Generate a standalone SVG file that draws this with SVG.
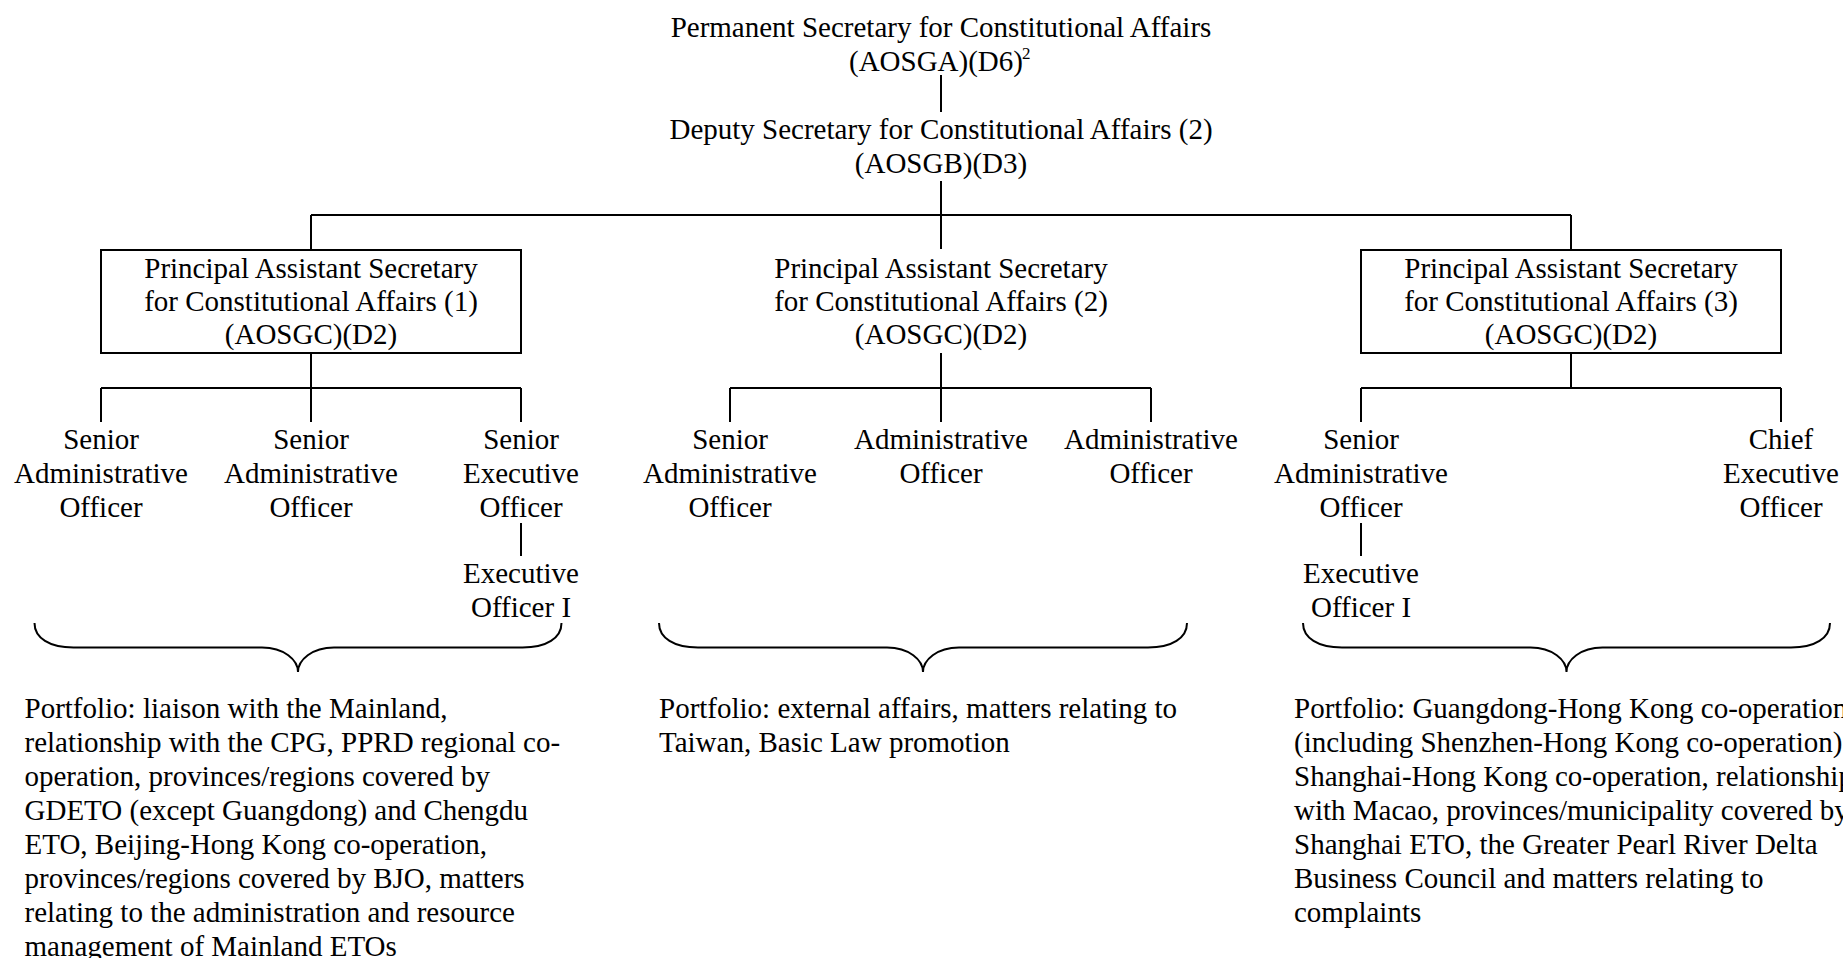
<svg xmlns="http://www.w3.org/2000/svg" width="1843" height="958" viewBox="0 0 1843 958">
<style>
text{font-family:"Liberation Serif","Times New Roman",serif;font-size:29px;fill:#000}
.c{text-anchor:middle}
.sup{font-size:17px}
.ln{stroke:#000;stroke-width:2;fill:none}
.box{stroke:#000;stroke-width:2;fill:#fff}
</style>
<rect width="1843" height="958" fill="#fff"/>
<g id="connectors" class="ln">
<path d="M941,75V112"/>
<path d="M941,181V249"/>
<path d="M311,215H1571M311,215V250M1571,215V250"/>
<path d="M311,353V388M101,388H521M101,388V422M311,388V422M521,388V422"/>
<path d="M941,353V388M730,388H1151M730,388V422M941,388V422M1151,388V422"/>
<path d="M1571,353V388M1361,388H1781M1361,388V422M1781,388V422"/>
<path d="M521,523V556"/>
<path d="M1361,523V556"/>
</g>
<g id="braces" class="ln">
<path d="M34.5,623C34.5,638 49.5,647.5 73.5,647.5H262C284,647.5 298,660 298,672C298,660 312,647.5 334,647.5H522.5C546.5,647.5 561.5,638 561.5,623"/>
<path d="M659,623C659,638 674,647.5 698,647.5H887C909,647.5 923,660 923,672C923,660 937,647.5 959,647.5H1148C1172,647.5 1187,638 1187,623"/>
<path d="M1303,623C1303,638 1318,647.5 1342,647.5H1530.5C1552.5,647.5 1566.5,660 1566.5,672C1566.5,660 1580.5,647.5 1602.5,647.5H1791C1815,647.5 1830,638 1830,623"/>
</g>
<g id="ps">
<text class="c" x="941" y="37">Permanent Secretary for Constitutional Affairs</text>
<text x="849" y="70.5">(AOSGA)(D6)</text>
<text class="sup" x="1022" y="59">2</text>
</g>
<g id="ds">
<text class="c" x="941" y="139">Deputy Secretary for Constitutional Affairs (2)</text>
<text class="c" x="941" y="173">(AOSGB)(D3)</text>
</g>
<g id="pas1">
<rect class="box" x="101" y="250" width="420" height="103"/>
<text class="c" x="311" y="278">Principal Assistant Secretary</text>
<text class="c" x="311" y="311">for Constitutional Affairs (1)</text>
<text class="c" x="311" y="344">(AOSGC)(D2)</text>
</g>
<g id="pas2">
<text class="c" x="941" y="278">Principal Assistant Secretary</text>
<text class="c" x="941" y="311">for Constitutional Affairs (2)</text>
<text class="c" x="941" y="344">(AOSGC)(D2)</text>
</g>
<g id="pas3">
<rect class="box" x="1361" y="250" width="420" height="103"/>
<text class="c" x="1571" y="278">Principal Assistant Secretary</text>
<text class="c" x="1571" y="311">for Constitutional Affairs (3)</text>
<text class="c" x="1571" y="344">(AOSGC)(D2)</text>
</g>
<g id="sao1">
<text class="c" x="101" y="449">Senior</text>
<text class="c" x="101" y="483">Administrative</text>
<text class="c" x="101" y="517">Officer</text>
</g>
<g id="sao2">
<text class="c" x="311" y="449">Senior</text>
<text class="c" x="311" y="483">Administrative</text>
<text class="c" x="311" y="517">Officer</text>
</g>
<g id="seo1">
<text class="c" x="521" y="449">Senior</text>
<text class="c" x="521" y="483">Executive</text>
<text class="c" x="521" y="517">Officer</text>
</g>
<g id="eo1">
<text class="c" x="521" y="583">Executive</text>
<text class="c" x="521" y="617">Officer I</text>
</g>
<g id="sao3">
<text class="c" x="730" y="449">Senior</text>
<text class="c" x="730" y="483">Administrative</text>
<text class="c" x="730" y="517">Officer</text>
</g>
<g id="ao1">
<text class="c" x="941" y="449">Administrative</text>
<text class="c" x="941" y="483">Officer</text>
</g>
<g id="ao2">
<text class="c" x="1151" y="449">Administrative</text>
<text class="c" x="1151" y="483">Officer</text>
</g>
<g id="sao4">
<text class="c" x="1361" y="449">Senior</text>
<text class="c" x="1361" y="483">Administrative</text>
<text class="c" x="1361" y="517">Officer</text>
</g>
<g id="eo2">
<text class="c" x="1361" y="583">Executive</text>
<text class="c" x="1361" y="617">Officer I</text>
</g>
<g id="ceo">
<text class="c" x="1781" y="449">Chief</text>
<text class="c" x="1781" y="483">Executive</text>
<text class="c" x="1781" y="517">Officer</text>
</g>
<g id="portfolio1">
<text x="24.5" y="718">Portfolio: liaison with the Mainland,</text>
<text x="24.5" y="752">relationship with the CPG, PPRD regional co-</text>
<text x="24.5" y="786">operation, provinces/regions covered by</text>
<text x="24.5" y="820">GDETO (except Guangdong) and Chengdu</text>
<text x="24.5" y="854">ETO, Beijing-Hong Kong co-operation,</text>
<text x="24.5" y="887.5">provinces/regions covered by BJO, matters</text>
<text x="24.5" y="921.5">relating to the administration and resource</text>
<text x="24.5" y="955.5">management of Mainland ETOs</text>
</g>
<g id="portfolio2">
<text x="659" y="718">Portfolio: external affairs, matters relating to</text>
<text x="659" y="752">Taiwan, Basic Law promotion</text>
</g>
<g id="portfolio3">
<text x="1294" y="718">Portfolio: Guangdong-Hong Kong co-operation</text>
<text x="1294" y="752">(including Shenzhen-Hong Kong co-operation),</text>
<text x="1294" y="786">Shanghai-Hong Kong co-operation, relationship</text>
<text x="1294" y="820">with Macao, provinces/municipality covered by</text>
<text x="1294" y="854">Shanghai ETO, the Greater Pearl River Delta</text>
<text x="1294" y="887.5">Business Council and matters relating to</text>
<text x="1294" y="921.5">complaints</text>
</g>
</svg>
